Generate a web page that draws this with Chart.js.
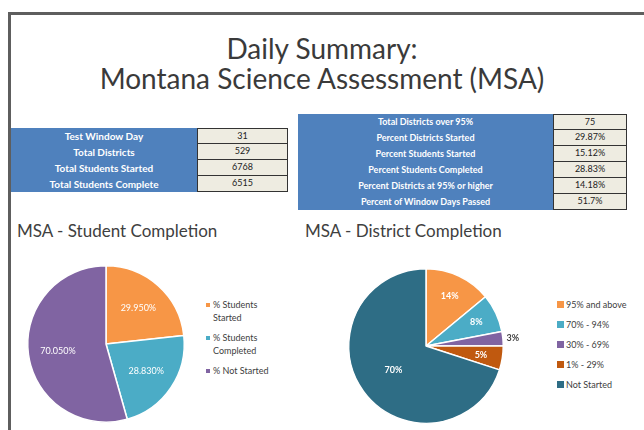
<!DOCTYPE html>
<html>
<head>
<meta charset="utf-8">
<script src="https://cdn.jsdelivr.net/npm/chart.js@4.4.1/dist/chart.umd.min.js"></script>
<style>
  body { margin: 0; width: 644px; height: 430px; overflow: hidden; background: #fff; position: relative; font-family: Lato, "Open Sans", sans-serif; }
  .frame { position: absolute; left: 8px; top: 12px; width: 700px; height: 500px; border-top: 3px solid #5e5e5e; border-left: 3px solid #5e5e5e; }
  .title { position: absolute; left: 0; width: 644px; text-align: center; color: #3a3a3a; font-size: 28px; line-height: 30px; }
  .tbl { position: absolute; }
  .row { display: flex; height: 16px; }
  .lbl { background: #4f81bd; color: #fff; font-weight: bold; font-size: 9px; line-height: 16px; text-align: center; white-space: nowrap; }
  .val { background: #eeece1; color: #222; font-size: 9px; line-height: 14px; text-align: center; border: 1px solid #333; border-top-width: 0; }
  .row:first-child .val { border-top-width: 1px; line-height: 13px; }
  #leftTable .lbl { font-size: 10px; }
  .sub { position: absolute; color: #404040; font-size: 17px; }
  .box { position: absolute; }
  .legend { position: absolute; color: #404040; font-size: 9px; }
  .legend .item { position: relative; }
  .legend .sw { position: absolute; left: 0; }
</style>
</head>
<body>
<div class="frame"></div>
<div class="title" style="top:33px">Daily Summary:</div>
<div class="title" style="top:63px">Montana Science Assessment (MSA)</div>

<div class="tbl" id="leftTable" style="left:11px; top:128px"></div>
<div class="tbl" id="rightTable" style="left:298px; top:114px"></div>

<div class="sub" style="left:17px; top:220px">MSA - Student Completion</div>
<div class="sub" style="left:305px; top:220px">MSA - District Completion</div>

<div class="box" style="left:6px; top:254px; width:200px; height:180px"><canvas id="studentPie"></canvas></div>
<div class="box" style="left:326px; top:256px; width:200px; height:180px"><canvas id="districtPie"></canvas></div>

<div class="legend" id="studentLegend" style="left:206px; top:298px; width:70px"></div>
<div class="legend" id="districtLegend" style="left:557px; top:298px; width:85px"></div>

<script>
// ข้อมูลตารางสรุป
const summaryLabels = ['Test Window Day', 'Total Districts', 'Total Students Started', 'Total Students Complete'];
const summaryValues = ['31', '529', '6768', '6515'];

const statLabels = ['Total Districts over 95%', 'Percent Districts Started', 'Percent Students Started',
                    'Percent Students Completed', 'Percent Districts at 95% or higher', 'Percent of Window Days Passed'];
const statValues = ['75', '29.87%', '15.12%', '28.83%', '14.18%', '51.7%'];

// ข้อมูลกราฟวงกลม
const studentLabels = ['% Students Started', '% Students Completed', '% Not Started'];
const studentValues = [29.95, 28.83, 70.05];
const studentColors = ['#f79646', '#4bacc6', '#8064a2'];

const districtLabels = ['95% and above', '70% - 94%', '30% - 69%', '1% - 29%', 'Not Started'];
const districtValues = [14, 8, 3, 5, 70];
const districtColors = ['#f79646', '#4bacc6', '#8064a2', '#c0590f', '#2e6d85'];

function buildTable(id, labels, values, lblWidth, valWidth) {
    const el = document.getElementById(id);
    labels.forEach((text, i) => {
        const row = document.createElement('div');
        row.className = 'row';
        row.innerHTML = `<div class="lbl" style="width:${lblWidth}px">${text}</div>` +
                        `<div class="val" style="width:${valWidth}px">${values[i]}</div>`;
        el.appendChild(row);
    });
}

buildTable('leftTable', summaryLabels, summaryValues, 186, 89);
buildTable('rightTable', statLabels, statValues, 255, 72);

// ปลั๊กอินวาดตัวเลขบนชิ้นพาย
const sliceLabels = {
    id: 'sliceLabels',
    afterDatasetsDraw(chart, args, opts) {
        const ctx = chart.ctx;
        const meta = chart.getDatasetMeta(0);
        const values = chart.data.datasets[0].data;
        const total = values.reduce((a, b) => a + b, 0);
        ctx.save();
        ctx.font = opts.weight + ' 9px Lato, "Open Sans", sans-serif';
        ctx.textAlign = 'center';
        ctx.textBaseline = 'middle';
        meta.data.forEach((arc, i) => {
            const p = arc.getProps(['x', 'y', 'startAngle', 'endAngle', 'outerRadius'], true);
            const mid = (p.startAngle + p.endAngle) / 2;
            const share = values[i] / total;
            const outside = share < 0.04; // ชิ้นเล็กมาก วางป้ายไว้นอกวง
            let r = share > 0.5 ? opts.largeRadius : opts.radius;
            if (outside) r = 1.13;
            ctx.fillStyle = outside ? '#404040' : '#ffffff';
            ctx.fillText(opts.format(values[i]),
                         p.x + Math.cos(mid) * p.outerRadius * r,
                         p.y + Math.sin(mid) * p.outerRadius * r);
        });
        ctx.restore();
    }
};

function renderPie(canvasId, labels, values, colors, labelOpts, padding) {
    new Chart(document.getElementById(canvasId), {
        type: 'pie',
        data: {
            labels: labels,
            datasets: [{
                data: values,
                backgroundColor: colors,
                borderColor: '#ffffff',
                borderWidth: 1.5
            }]
        },
        options: {
            responsive: true,
            maintainAspectRatio: false,
            animation: false,
            layout: { padding: padding },
            plugins: {
                legend: { display: false },
                tooltip: { enabled: false },
                sliceLabels: labelOpts
            }
        },
        plugins: [sliceLabels]
    });
}

function buildLegend(id, labels, colors, swSize, rowGap, textLeft) {
    const el = document.getElementById(id);
    labels.forEach((text, i) => {
        const item = document.createElement('div');
        item.className = 'item';
        item.style.paddingLeft = textLeft + 'px';
        item.style.marginBottom = rowGap + 'px';
        item.style.lineHeight = '13px';
        item.innerHTML = `<span class="sw" style="top:${(13 - swSize) / 2}px;width:${swSize}px;height:${swSize}px;background:${colors[i]}"></span>${text}`;
        el.appendChild(item);
    });
}

renderPie('studentPie', studentLabels, studentValues, studentColors,
          { radius: 0.62, largeRadius: 0.62, weight: 'normal', format: v => v.toFixed(3) + '%' },
          { left: 21, right: 21, top: 11, bottom: 11 });
renderPie('districtPie', districtLabels, districtValues, districtColors,
          { radius: 0.72, largeRadius: 0.52, weight: 'bold', format: v => Math.round(v) + '%' },
          { left: 22, right: 22, top: 12, bottom: 12 });

buildLegend('studentLegend', studentLabels, studentColors, 4, 7, 7);
buildLegend('districtLegend', districtLabels, districtColors, 7, 7, 9);
</script>
</body>
</html>
